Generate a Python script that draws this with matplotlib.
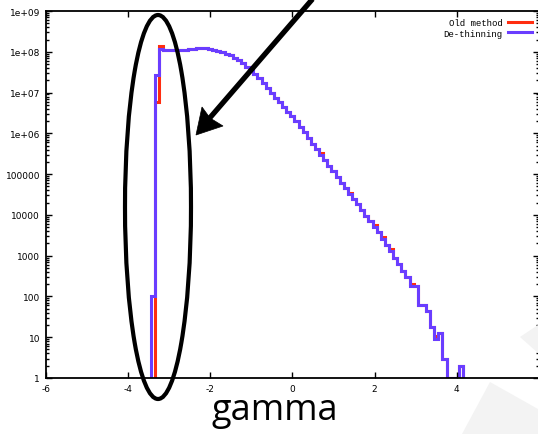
import numpy as np
import matplotlib
matplotlib.use("Agg")
import matplotlib.pyplot as plt
from matplotlib.patches import Ellipse, Polygon

# ---- data ----
bin_centers = [round(-3.4 + 0.1 * i, 2) for i in range(76)]
dethinning = [100, 2.7e7, 1.15e8, 1.12e8, 1.12e8, 1.12e8, 1.12e8, 1.13e8, 1.13e8, 1.14e8,
              1.16e8, 1.22e8, 1.23e8, 1.22e8, 1.17e8, 1.12e8, 1.06e8, 9.8e7, 9.0e7, 8.3e7,
              7.2e7, 6.2e7, 5.25e7, 4.3e7, 3.55e7, 2.8e7, 2.25e7, 1.7e7, 1.28e7, 1.0e7,
              7.5e6, 5.8e6, 4.4e6, 3.3e6, 2.6e6, 2.0e6, 1.46e6, 1.07e6, 7.6e5, 5.6e5,
              4.1e5, 3.0e5, 2.2e5, 1.57e5, 1.18e5, 8.5e4, 6.0e4, 4.6e4, 3.2e4, 2.45e4,
              1.83e4, 1.3e4, 9.3e3, 7.0e3, 5.0e3, 3.8e3, 2.6e3, 1.8e3, 1.3e3, 870,
              620, 420, 300, 183, 183, 63, 60, 44, 18, 9,
              12.7, 3, 1, 1, 1, 2]
old_method = [0, 6e6, 1.4e8, 1.12e8, 1.12e8, 1.12e8, 1.12e8, 1.13e8, 1.13e8, 1.14e8,
              1.16e8, 1.22e8, 1.23e8, 1.22e8, 1.17e8, 1.12e8, 1.06e8, 9.8e7, 9.0e7, 8.3e7,
              7.2e7, 6.2e7, 5.25e7, 4.3e7, 3.55e7, 2.8e7, 2.25e7, 1.7e7, 1.28e7, 1.0e7,
              7.5e6, 5.8e6, 4.4e6, 3.3e6, 2.6e6, 2.0e6, 1.46e6, 1.07e6, 7.6e5, 5.6e5,
              4.1e5, 3.3e5, 2.2e5, 1.57e5, 1.18e5, 8.5e4, 6.0e4, 4.6e4, 3.5e4, 2.45e4,
              1.83e4, 1.3e4, 9.3e3, 7.0e3, 5.6e3, 3.8e3, 2.9e3, 1.8e3, 1.45e3, 870,
              620, 420, 300, 200, 183, 63, 60, 44, 18, 10.5,
              12.7, 3, 1, 1, 1, 2]
x_ticks = [-6, -4, -2, 0, 2, 4, 6]
y_ticks = [1, 10, 100, 1000, 10000, 100000, 1e6, 1e7, 1e8, 1e9]
y_labels = ["1", "10", "100", "1000", "10000", "100000", "1e+06", "1e+07", "1e+08", "1e+09"]
series_names = ["Old method", "De-thinning"]

RED = "#ff2d10"
BLUE = "#6a3dff"

W, H = 538, 435
fig = plt.figure(figsize=(W / 100, H / 100), dpi=100)
ax = fig.add_axes([45.7 / W, (H - 379) / H, (539 - 45.7) / W, (379 - 12) / H])

centers = np.array(bin_centers)
edges = np.concatenate([centers - 0.05, [centers[-1] + 0.05]])
blue = np.array(dethinning, dtype=float)
red = np.array(old_method, dtype=float)
first = int(np.argmax(red > 0))

ax.stairs(red[first:], edges[first:], baseline=1, color=RED, lw=2.2, label=series_names[0])
ax.stairs(blue, edges, baseline=1, color=BLUE, lw=2.2, label=series_names[1])

ax.set_yscale("log")
ax.set_xlim(-6, 6)
ax.set_ylim(1, 1e9)
ax.set_xticks(x_ticks)
ax.set_xticklabels([str(t) if t != 6 else "" for t in x_ticks])
ax.set_yticks(y_ticks)
ax.set_yticklabels(y_labels)
ax.yaxis.set_minor_locator(matplotlib.ticker.LogLocator(base=10, subs=np.arange(2, 10), numticks=20))
ax.yaxis.set_minor_formatter(matplotlib.ticker.NullFormatter())
ax.tick_params(which="both", direction="in", top=True, right=True, width=1.0)
ax.tick_params(which="major", length=4, labelsize=6.5, pad=4)
ax.tick_params(which="minor", length=2)
for lab in ax.get_xticklabels() + ax.get_yticklabels():
    lab.set_family("DejaVu Sans")
for s in ax.spines.values():
    s.set_linewidth(1.3)

leg = ax.legend(loc="upper right", bbox_to_anchor=(0.996, 0.995), frameon=False,
                markerfirst=False, handlelength=2.6, handletextpad=0.6,
                labelspacing=0.15, borderaxespad=0.2,
                prop={"family": "Liberation Mono", "size": 6.5})

# ---- overlay annotations (figure pixel coordinates) ----
ov = fig.add_axes([0, 0, 1, 1], zorder=10)
ov.set_xlim(0, W)
ov.set_ylim(H, 0)
ov.axis("off")
ov.patch.set_alpha(0)

ov.add_patch(Polygon([[462, 435], [490, 383], [538, 410], [538, 435]],
                     closed=True, facecolor="#f3f3f3", edgecolor="none", zorder=0))
ov.add_patch(Polygon([[520, 338], [538, 326], [538, 354]],
                     closed=True, facecolor="#f3f3f3", edgecolor="none", zorder=0))

ov.add_patch(Ellipse((158, 208), 66, 384, fill=False, edgecolor="black", lw=3.0))

ov.plot([316, 208], [-4, 121], color="black", lw=3.8, solid_capstyle="butt")
ov.add_patch(Polygon([[196, 136], [202, 108], [210, 119], [223, 127]],
                     closed=True, facecolor="black", edgecolor="black", lw=0.5))

ov.text(275, 411, "gamma", ha="center", va="center", fontsize=26,
        family="Open Sans", color="black")

fig.savefig("out.png", dpi=100)
